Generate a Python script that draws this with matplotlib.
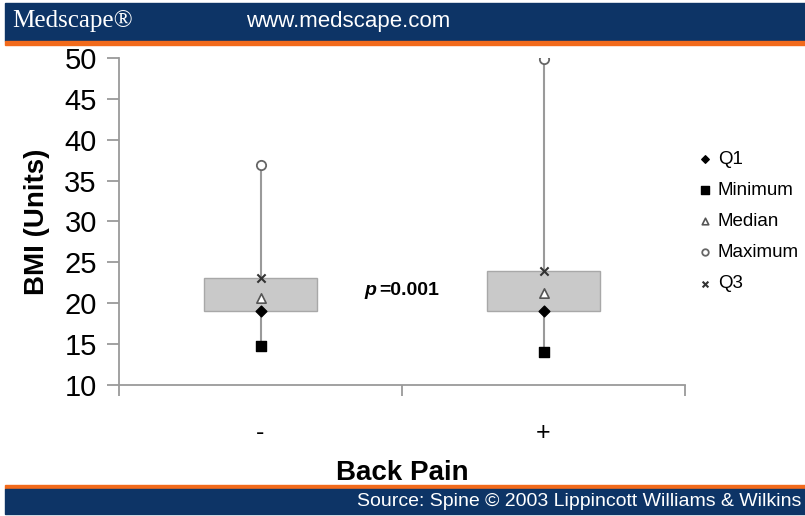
import matplotlib.pyplot as plt
from matplotlib.patches import Rectangle

# BMI summary values for each back pain group
groups = ["-", "+"]
minimum = [14.8, 14.0]
q1 = [19.0, 19.0]
median = [20.6, 21.2]
q3 = [23.1, 23.9]
maximum = [36.9, 49.9]
yticks = [10, 15, 20, 25, 30, 35, 40, 45, 50]

NAVY = "#0d3466"
ORANGE = "#f26a1b"
GRAY = "#9a9a9a"

plt.rcParams['font.family'] = ['Liberation Sans', 'DejaVu Sans']

fig = plt.figure(figsize=(8.05, 5.16), dpi=100)

# banners top and bottom
fig.patches.append(Rectangle((5/805, 1 - 41/516), 1, 38/516, transform=fig.transFigure,
                             color=NAVY, zorder=-1))
fig.patches.append(Rectangle((5/805, 1 - 45/516), 1, 4/516, transform=fig.transFigure,
                             color=ORANGE, zorder=-1))
fig.patches.append(Rectangle((5/805, 1 - 489/516), 1, 4/516, transform=fig.transFigure,
                             color=ORANGE, zorder=-1))
fig.patches.append(Rectangle((5/805, 2/516), 1, 25/516, transform=fig.transFigure,
                             color=NAVY, zorder=-1))
fig.text(12/805, 1 - 21/516, "Medscape\u00ae", color="white", fontsize=18,
         family=['Liberation Serif', 'DejaVu Serif'], va="center", ha="left")
fig.text(246/805, 1 - 22/516, "www.medscape.com", color="white", fontsize=16,
         va="center", ha="left")
fig.text(801/805, 14/516, "Source: Spine \u00a9 2003 Lippincott Williams & Wilkins",
         color="white", fontsize=14, va="center", ha="right")

ax = fig.add_axes([119/805, 131/516, 566/805, 327/516])

pos = [0.5, 1.5]
width = 0.4
for i, x in enumerate(pos):
    ax.plot([x, x], [minimum[i], maximum[i]], color=GRAY, lw=1.5, zorder=1)
    ax.add_patch(Rectangle((x - width/2, q1[i]), width, q3[i] - q1[i],
                           facecolor="#c9c9c9", edgecolor="#a8a8a8", lw=1, zorder=2))

ax.scatter(pos, q1, marker="D", s=30, color="black", zorder=4, label="Q1")
ax.scatter(pos, minimum, marker="s", s=55, color="black", zorder=4, label="Minimum")
ax.scatter(pos, median, marker="^", s=45, facecolor="white", edgecolor="#555555",
           lw=1.2, zorder=4, label="Median")
ax.scatter(pos, maximum, marker="o", s=45, facecolor="white", edgecolor="#666666",
           lw=1.3, zorder=4, label="Maximum")
ax.scatter(pos, q3, marker="x", s=35, color="#333333", lw=1.5, zorder=4, label="Q3")

ax.text(0.91, 21.6, "p", fontsize=14, fontweight="bold", fontstyle="italic",
        ha="right", va="center")
ax.text(0.92, 21.6, "=0.001", fontsize=14, fontweight="bold", ha="left", va="center")

ax.set_xlim(0, 2)
ax.set_ylim(10, 50)
ax.set_yticks(yticks)
ax.set_xticks([0, 1, 2])
ax.set_xticklabels([])
ax.set_xticks(pos, minor=True)
ax.set_xticklabels(groups, minor=True, fontsize=18)
ax.tick_params(axis="x", which="minor", length=0, pad=26)
ax.tick_params(axis="x", which="major", length=8, color=GRAY, width=1.3)
ax.tick_params(axis="y", length=9, color=GRAY, width=1.3, labelsize=21, pad=7)

for s in ["top", "right"]:
    ax.spines[s].set_visible(False)
for s in ["left", "bottom"]:
    ax.spines[s].set_color(GRAY)
    ax.spines[s].set_linewidth(1.3)

ax.set_ylabel("BMI (Units)", fontsize=20, fontweight="bold", labelpad=10)
ax.set_xlabel("Back Pain", fontsize=20, fontweight="bold", labelpad=11)

ax.legend(loc="center left", bbox_to_anchor=(1.025, 0.5), frameon=False,
          fontsize=13.5, handlelength=0.6, handletextpad=0.4, labelspacing=0.75,
          borderpad=0, borderaxespad=0, markerscale=0.7)

fig.savefig("out.png", dpi=100)
